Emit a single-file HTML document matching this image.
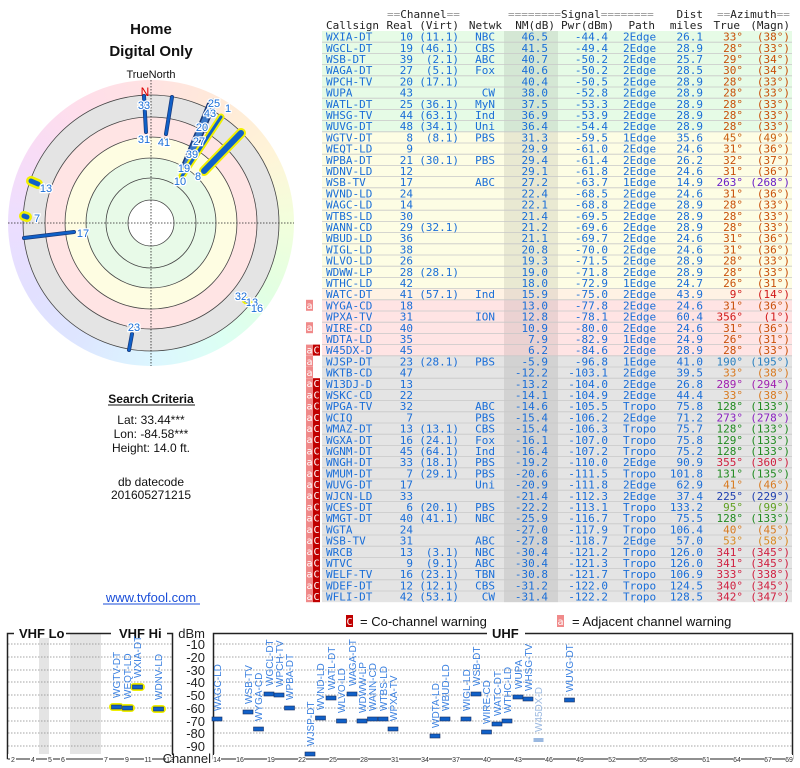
<!DOCTYPE html>
<html><head><meta charset="utf-8">
<style>
html,body{margin:0;padding:0;background:#fff;width:800px;height:768px;overflow:hidden;}
svg{position:absolute;left:0;top:0;}
.t text{font-family:"DejaVu Sans Mono","Liberation Mono",monospace;font-size:11px;fill:#1a6ed8;}
.t .r{text-anchor:end;}
.h text{font-family:"DejaVu Sans Mono","Liberation Mono",monospace;font-size:11px;fill:#222;}
.s{font-family:"Liberation Sans",sans-serif;}
.lb{font-family:"Liberation Sans",sans-serif;font-size:11px;fill:#1a6ed8;stroke:#fff;stroke-width:2.5px;paint-order:stroke;text-anchor:middle;}
.vl{font-family:"Liberation Sans",sans-serif;font-size:10px;fill:#3a80e0;}
.ax{font-family:"Liberation Sans",sans-serif;font-size:13px;fill:#222;text-anchor:end;}
.tk{font-family:"Liberation Sans",sans-serif;font-size:7px;fill:#333;text-anchor:middle;}
.w text{font-family:"DejaVu Sans Mono",monospace;font-size:10px;fill:#fff;text-anchor:middle;}
#ring{position:absolute;left:8px;top:80px;width:286px;height:286px;border-radius:50%;
background:conic-gradient(from 0deg,#ffe2e2,#ffead8,#fff4d8,#f2ffdc,#e2ffe2,#dcfff4,#dcf6ff,#dde6ff,#e2e0ff,#ecdeff,#f8dcf6,#ffdeea,#ffe2e2);}
</style></head><body>
<div id="ring"></div>
<svg width="800" height="768" viewBox="0 0 800 768">
<text class="s" x="151" y="34" font-size="15" font-weight="bold" text-anchor="middle" fill="#111">Home</text>
<text class="s" x="151" y="56" font-size="15" font-weight="bold" text-anchor="middle" fill="#111">Digital Only</text>
<text class="s" x="151" y="78" font-size="11" text-anchor="middle" fill="#111">TrueNorth</text>

<circle cx="151" cy="223" r="128" fill="#e4e4e4" stroke="#444" stroke-width="0.8"/>
<circle cx="151" cy="223" r="106" fill="#ffe4e4" stroke="#444" stroke-width="0.8"/>
<circle cx="151" cy="223" r="86" fill="#fefde2" stroke="#444" stroke-width="0.8"/>
<circle cx="151" cy="223" r="65" fill="#e8fae8" stroke="#444" stroke-width="0.8"/>
<circle cx="151" cy="223" r="45" fill="#e8fae8" stroke="#444" stroke-width="0.8"/>
<circle cx="151" cy="223" r="23" fill="#fff" stroke="#444" stroke-width="0.8"/>
<line x1="151" y1="80" x2="151" y2="366" stroke="#222" stroke-width="0.8" stroke-dasharray="1.5,1.5"/>
<line x1="8" y1="223" x2="294" y2="223" stroke="#222" stroke-width="0.8" stroke-dasharray="1.5,1.5"/>
<text class="s" x="145" y="96" font-size="12" fill="#d00" text-anchor="middle">N</text>
<g stroke-linecap="round">
<line x1="144" y1="96" x2="146" y2="132" stroke="#1a3a7a" stroke-width="4"/>
<line x1="144" y1="96" x2="146" y2="132" stroke="#1060c8" stroke-width="2.5"/>
<line x1="172" y1="97" x2="166" y2="134" stroke="#1a3a7a" stroke-width="4"/>
<line x1="172" y1="97" x2="166" y2="134" stroke="#1060c8" stroke-width="2.5"/>
<line x1="24" y1="238" x2="74" y2="232" stroke="#1a3a7a" stroke-width="4"/>
<line x1="24" y1="238" x2="74" y2="232" stroke="#1060c8" stroke-width="2.5"/>
<line x1="132" y1="334" x2="129" y2="350" stroke="#1a3a7a" stroke-width="4"/>
<line x1="132" y1="334" x2="129" y2="350" stroke="#1060c8" stroke-width="2.5"/>
<line x1="184" y1="170" x2="212" y2="103" stroke="#1a3a7a" stroke-width="9"/>
<line x1="184" y1="170" x2="212" y2="103" stroke="#3a78c8" stroke-width="6" stroke-dasharray="2,2"/>
<line x1="182" y1="176" x2="221" y2="117" stroke="#f0f000" stroke-width="7"/>
<line x1="182" y1="176" x2="221" y2="117" stroke="#1060c8" stroke-width="3"/>
<line x1="204" y1="171" x2="241" y2="133" stroke="#f0f000" stroke-width="10"/>
<line x1="204" y1="171" x2="241" y2="133" stroke="#1060c8" stroke-width="6"/>
<line x1="31" y1="181" x2="38" y2="184" stroke="#f0f000" stroke-width="10"/>
<line x1="31" y1="181" x2="38" y2="184" stroke="#1060c8" stroke-width="5"/>
<line x1="24" y1="216" x2="27" y2="217" stroke="#f0f000" stroke-width="10"/>
<line x1="24" y1="216" x2="27" y2="217" stroke="#1060c8" stroke-width="5"/>
<line x1="245" y1="300" x2="249" y2="303" stroke="#f0f000" stroke-width="7"/>
<line x1="245" y1="300" x2="249" y2="303" stroke="#1060c8" stroke-width="3"/>
</g>
<text class="lb" x="144" y="109">33</text>
<text class="lb" x="144" y="143">31</text>
<text class="lb" x="164" y="146">41</text>
<text class="lb" x="180" y="185">10</text>
<text class="lb" x="198" y="180">8</text>
<text class="lb" x="184" y="172">19</text>
<text class="lb" x="192" y="158">39</text>
<text class="lb" x="199" y="145">27</text>
<text class="lb" x="202" y="131">20</text>
<text class="lb" x="210" y="117">43</text>
<text class="lb" x="214" y="107">25</text>
<text class="lb" x="228" y="112">1</text>
<text class="lb" x="46" y="192">13</text>
<text class="lb" x="37" y="222">7</text>
<text class="lb" x="83" y="237">17</text>
<text class="lb" x="134" y="331">23</text>
<text class="lb" x="241" y="300">32</text>
<text class="lb" x="252" y="306">13</text>
<text class="lb" x="257" y="312">16</text>

<text class="s" x="151" y="403" font-size="12" font-weight="bold" text-anchor="middle" fill="#111">Search Criteria</text>
<line x1="108" y1="405" x2="195" y2="405" stroke="#111" stroke-width="1"/>
<text class="s" x="151" y="424" font-size="12" text-anchor="middle" fill="#111">Lat: 33.44***</text>
<text class="s" x="151" y="438" font-size="12" text-anchor="middle" fill="#111">Lon: -84.58***</text>
<text class="s" x="151" y="452" font-size="12" text-anchor="middle" fill="#111">Height: 14.0 ft.</text>
<text class="s" x="151" y="486" font-size="12" text-anchor="middle" fill="#111">db datecode</text>
<text class="s" x="151" y="499" font-size="12" text-anchor="middle" fill="#111">201605271215</text>
<text class="s" x="151" y="602" font-size="13" text-anchor="middle" fill="#1a4ed8">www.tvfool.com</text>
<line x1="103" y1="604" x2="200" y2="604" stroke="#1a4ed8" stroke-width="1"/>

<rect x="322" y="31" width="470" height="100.8" fill="#e6fbe6"/>
<rect x="322" y="131.8" width="470" height="156.8" fill="#fdfde4"/>
<rect x="322" y="288.6" width="470" height="11.2" fill="#fff2e4"/>
<rect x="322" y="299.8" width="470" height="56" fill="#ffe4e4"/>
<rect x="322" y="355.8" width="470" height="246.4" fill="#e4e4e4"/>
<rect x="504" y="31" width="54" height="571.2" fill="#000" fill-opacity="0.08"/>
<path stroke="#c8c8c8" stroke-width="0.8" d="M322 42.2H792M322 53.4H792M322 64.6H792M322 75.8H792M322 87H792M322 98.2H792M322 109.4H792M322 120.6H792M322 131.8H792M322 143H792M322 154.2H792M322 165.4H792M322 176.6H792M322 187.8H792M322 199H792M322 210.2H792M322 221.4H792M322 232.6H792M322 243.8H792M322 255H792M322 266.2H792M322 277.4H792M322 288.6H792M322 299.8H792M322 311H792M322 322.2H792M322 333.4H792M322 344.6H792M322 355.8H792M322 367H792M322 378.2H792M322 389.4H792M322 400.6H792M322 411.8H792M322 423H792M322 434.2H792M322 445.4H792M322 456.6H792M322 467.8H792M322 479H792M322 490.2H792M322 501.4H792M322 512.6H792M322 523.8H792M322 535H792M322 546.2H792M322 557.4H792M322 568.6H792M322 579.8H792M322 591H792"/>

<g class="h">
<text x="387" y="18"><tspan fill="#999">==</tspan>Channel<tspan fill="#999">==</tspan></text>
<text x="508" y="18"><tspan fill="#999">========</tspan>Signal<tspan fill="#999">========</tspan></text>
<text x="703" y="18" text-anchor="end">Dist</text>
<text x="717" y="18"><tspan fill="#999">==</tspan>Azimuth<tspan fill="#999">==</tspan></text>
<text x="326" y="29">Callsign</text>
<text x="413" y="29" text-anchor="end">Real</text>
<text x="459" y="29" text-anchor="end">(Virt)</text>
<text x="502" y="29" text-anchor="end">Netwk</text>
<text x="555" y="29" text-anchor="end">NM(dB)</text>
<text x="614" y="29" text-anchor="end">Pwr(dBm)</text>
<text x="655" y="29" text-anchor="end">Path</text>
<text x="703" y="29" text-anchor="end">miles</text>
<text x="740" y="29" text-anchor="end">True</text>
<text x="790" y="29" text-anchor="end">(Magn)</text>
</g>

<g class="t">
<g transform="translate(0,40.6)"><text x="326">WXIA-DT</text><text class="r" x="413">10</text><text class="r" x="459">(11.1)</text><text class="r" x="495">NBC</text><text class="r" x="548">46.5</text><text class="r" x="608">-44.4</text><text x="623">2Edge</text><text class="r" x="703">26.1</text><text class="r" x="743" style="fill:#c8500a">33°</text><text class="r" x="790" style="fill:#c8500a">(38°)</text></g>
<g transform="translate(0,51.8)"><text x="326">WGCL-DT</text><text class="r" x="413">19</text><text class="r" x="459">(46.1)</text><text class="r" x="495">CBS</text><text class="r" x="548">41.5</text><text class="r" x="608">-49.4</text><text x="623">2Edge</text><text class="r" x="703">28.9</text><text class="r" x="743" style="fill:#c8500a">28°</text><text class="r" x="790" style="fill:#c8500a">(33°)</text></g>
<g transform="translate(0,63)"><text x="326">WSB-DT</text><text class="r" x="413">39</text><text class="r" x="459">(2.1)</text><text class="r" x="495">ABC</text><text class="r" x="548">40.7</text><text class="r" x="608">-50.2</text><text x="623">2Edge</text><text class="r" x="703">25.7</text><text class="r" x="743" style="fill:#c8500a">29°</text><text class="r" x="790" style="fill:#c8500a">(34°)</text></g>
<g transform="translate(0,74.2)"><text x="326">WAGA-DT</text><text class="r" x="413">27</text><text class="r" x="459">(5.1)</text><text class="r" x="495">Fox</text><text class="r" x="548">40.6</text><text class="r" x="608">-50.2</text><text x="623">2Edge</text><text class="r" x="703">28.5</text><text class="r" x="743" style="fill:#c8500a">30°</text><text class="r" x="790" style="fill:#c8500a">(34°)</text></g>
<g transform="translate(0,85.4)"><text x="326">WPCH-TV</text><text class="r" x="413">20</text><text class="r" x="459">(17.1)</text><text class="r" x="548">40.4</text><text class="r" x="608">-50.5</text><text x="623">2Edge</text><text class="r" x="703">28.9</text><text class="r" x="743" style="fill:#c8500a">28°</text><text class="r" x="790" style="fill:#c8500a">(33°)</text></g>
<g transform="translate(0,96.6)"><text x="326">WUPA</text><text class="r" x="413">43</text><text class="r" x="495">CW</text><text class="r" x="548">38.0</text><text class="r" x="608">-52.8</text><text x="623">2Edge</text><text class="r" x="703">28.9</text><text class="r" x="743" style="fill:#c8500a">28°</text><text class="r" x="790" style="fill:#c8500a">(33°)</text></g>
<g transform="translate(0,107.8)"><text x="326">WATL-DT</text><text class="r" x="413">25</text><text class="r" x="459">(36.1)</text><text class="r" x="495">MyN</text><text class="r" x="548">37.5</text><text class="r" x="608">-53.3</text><text x="623">2Edge</text><text class="r" x="703">28.9</text><text class="r" x="743" style="fill:#c8500a">28°</text><text class="r" x="790" style="fill:#c8500a">(33°)</text></g>
<g transform="translate(0,119)"><text x="326">WHSG-TV</text><text class="r" x="413">44</text><text class="r" x="459">(63.1)</text><text class="r" x="495">Ind</text><text class="r" x="548">36.9</text><text class="r" x="608">-53.9</text><text x="623">2Edge</text><text class="r" x="703">28.9</text><text class="r" x="743" style="fill:#c8500a">28°</text><text class="r" x="790" style="fill:#c8500a">(33°)</text></g>
<g transform="translate(0,130.2)"><text x="326">WUVG-DT</text><text class="r" x="413">48</text><text class="r" x="459">(34.1)</text><text class="r" x="495">Uni</text><text class="r" x="548">36.4</text><text class="r" x="608">-54.4</text><text x="623">2Edge</text><text class="r" x="703">28.9</text><text class="r" x="743" style="fill:#c8500a">28°</text><text class="r" x="790" style="fill:#c8500a">(33°)</text></g>
<g transform="translate(0,141.4)"><text x="326">WGTV-DT</text><text class="r" x="413">8</text><text class="r" x="459">(8.1)</text><text class="r" x="495">PBS</text><text class="r" x="548">31.3</text><text class="r" x="608">-59.5</text><text x="623">1Edge</text><text class="r" x="703">35.6</text><text class="r" x="743" style="fill:#c86010">45°</text><text class="r" x="790" style="fill:#c86010">(49°)</text></g>
<g transform="translate(0,152.6)"><text x="326">WEQT-LD</text><text class="r" x="413">9</text><text class="r" x="548">29.9</text><text class="r" x="608">-61.0</text><text x="623">2Edge</text><text class="r" x="703">24.6</text><text class="r" x="743" style="fill:#c8500a">31°</text><text class="r" x="790" style="fill:#c8500a">(36°)</text></g>
<g transform="translate(0,163.8)"><text x="326">WPBA-DT</text><text class="r" x="413">21</text><text class="r" x="459">(30.1)</text><text class="r" x="495">PBS</text><text class="r" x="548">29.4</text><text class="r" x="608">-61.4</text><text x="623">2Edge</text><text class="r" x="703">26.2</text><text class="r" x="743" style="fill:#c8500a">32°</text><text class="r" x="790" style="fill:#c8500a">(37°)</text></g>
<g transform="translate(0,175)"><text x="326">WDNV-LD</text><text class="r" x="413">12</text><text class="r" x="548">29.1</text><text class="r" x="608">-61.8</text><text x="623">2Edge</text><text class="r" x="703">24.6</text><text class="r" x="743" style="fill:#c8500a">31°</text><text class="r" x="790" style="fill:#c8500a">(36°)</text></g>
<g transform="translate(0,186.2)"><text x="326">WSB-TV</text><text class="r" x="413">17</text><text class="r" x="495">ABC</text><text class="r" x="548">27.2</text><text class="r" x="608">-63.7</text><text x="623">1Edge</text><text class="r" x="703">14.9</text><text class="r" x="743" style="fill:#6a20c8">263°</text><text class="r" x="790" style="fill:#6a20c8">(268°)</text></g>
<g transform="translate(0,197.4)"><text x="326">WVND-LD</text><text class="r" x="413">24</text><text class="r" x="548">22.4</text><text class="r" x="608">-68.5</text><text x="623">2Edge</text><text class="r" x="703">24.6</text><text class="r" x="743" style="fill:#c8500a">31°</text><text class="r" x="790" style="fill:#c8500a">(36°)</text></g>
<g transform="translate(0,208.6)"><text x="326">WAGC-LD</text><text class="r" x="413">14</text><text class="r" x="548">22.1</text><text class="r" x="608">-68.8</text><text x="623">2Edge</text><text class="r" x="703">28.9</text><text class="r" x="743" style="fill:#c8500a">28°</text><text class="r" x="790" style="fill:#c8500a">(33°)</text></g>
<g transform="translate(0,219.8)"><text x="326">WTBS-LD</text><text class="r" x="413">30</text><text class="r" x="548">21.4</text><text class="r" x="608">-69.5</text><text x="623">2Edge</text><text class="r" x="703">28.9</text><text class="r" x="743" style="fill:#c8500a">28°</text><text class="r" x="790" style="fill:#c8500a">(33°)</text></g>
<g transform="translate(0,231)"><text x="326">WANN-CD</text><text class="r" x="413">29</text><text class="r" x="459">(32.1)</text><text class="r" x="548">21.2</text><text class="r" x="608">-69.6</text><text x="623">2Edge</text><text class="r" x="703">28.9</text><text class="r" x="743" style="fill:#c8500a">28°</text><text class="r" x="790" style="fill:#c8500a">(33°)</text></g>
<g transform="translate(0,242.2)"><text x="326">WBUD-LD</text><text class="r" x="413">36</text><text class="r" x="548">21.1</text><text class="r" x="608">-69.7</text><text x="623">2Edge</text><text class="r" x="703">24.6</text><text class="r" x="743" style="fill:#c8500a">31°</text><text class="r" x="790" style="fill:#c8500a">(36°)</text></g>
<g transform="translate(0,253.4)"><text x="326">WIGL-LD</text><text class="r" x="413">38</text><text class="r" x="548">20.8</text><text class="r" x="608">-70.0</text><text x="623">2Edge</text><text class="r" x="703">24.6</text><text class="r" x="743" style="fill:#c8500a">31°</text><text class="r" x="790" style="fill:#c8500a">(36°)</text></g>
<g transform="translate(0,264.6)"><text x="326">WLVO-LD</text><text class="r" x="413">26</text><text class="r" x="548">19.3</text><text class="r" x="608">-71.5</text><text x="623">2Edge</text><text class="r" x="703">28.9</text><text class="r" x="743" style="fill:#c8500a">28°</text><text class="r" x="790" style="fill:#c8500a">(33°)</text></g>
<g transform="translate(0,275.8)"><text x="326">WDWW-LP</text><text class="r" x="413">28</text><text class="r" x="459">(28.1)</text><text class="r" x="548">19.0</text><text class="r" x="608">-71.8</text><text x="623">2Edge</text><text class="r" x="703">28.9</text><text class="r" x="743" style="fill:#c8500a">28°</text><text class="r" x="790" style="fill:#c8500a">(33°)</text></g>
<g transform="translate(0,287)"><text x="326">WTHC-LD</text><text class="r" x="413">42</text><text class="r" x="548">18.0</text><text class="r" x="608">-72.9</text><text x="623">1Edge</text><text class="r" x="703">24.7</text><text class="r" x="743" style="fill:#c8500a">26°</text><text class="r" x="790" style="fill:#c8500a">(31°)</text></g>
<g transform="translate(0,298.2)"><text x="326">WATC-DT</text><text class="r" x="413">41</text><text class="r" x="459">(57.1)</text><text class="r" x="495">Ind</text><text class="r" x="548">15.9</text><text class="r" x="608">-75.0</text><text x="623">2Edge</text><text class="r" x="703">43.9</text><text class="r" x="743" style="fill:#d01818">9°</text><text class="r" x="790" style="fill:#d01818">(14°)</text></g>
<g transform="translate(0,309.4)"><text x="326">WYGA-CD</text><text class="r" x="413">18</text><text class="r" x="548">13.0</text><text class="r" x="608">-77.8</text><text x="623">2Edge</text><text class="r" x="703">24.6</text><text class="r" x="743" style="fill:#c8500a">31°</text><text class="r" x="790" style="fill:#c8500a">(36°)</text></g>
<g transform="translate(0,320.6)"><text x="326">WPXA-TV</text><text class="r" x="413">31</text><text class="r" x="495">ION</text><text class="r" x="548">12.8</text><text class="r" x="608">-78.1</text><text x="623">2Edge</text><text class="r" x="703">60.4</text><text class="r" x="743" style="fill:#d01818">356°</text><text class="r" x="790" style="fill:#d01818">(1°)</text></g>
<g transform="translate(0,331.8)"><text x="326">WIRE-CD</text><text class="r" x="413">40</text><text class="r" x="548">10.9</text><text class="r" x="608">-80.0</text><text x="623">2Edge</text><text class="r" x="703">24.6</text><text class="r" x="743" style="fill:#c8500a">31°</text><text class="r" x="790" style="fill:#c8500a">(36°)</text></g>
<g transform="translate(0,343)"><text x="326">WDTA-LD</text><text class="r" x="413">35</text><text class="r" x="548">7.9</text><text class="r" x="608">-82.9</text><text x="623">1Edge</text><text class="r" x="703">24.9</text><text class="r" x="743" style="fill:#c8500a">26°</text><text class="r" x="790" style="fill:#c8500a">(31°)</text></g>
<g transform="translate(0,354.2)"><text x="326">W45DX-D</text><text class="r" x="413">45</text><text class="r" x="548">6.2</text><text class="r" x="608">-84.6</text><text x="623">2Edge</text><text class="r" x="703">28.9</text><text class="r" x="743" style="fill:#c8500a">28°</text><text class="r" x="790" style="fill:#c8500a">(33°)</text></g>
<g transform="translate(0,365.4)"><text x="326">WJSP-DT</text><text class="r" x="413">23</text><text class="r" x="459">(28.1)</text><text class="r" x="495">PBS</text><text class="r" x="548">-5.9</text><text class="r" x="608">-96.8</text><text x="623">1Edge</text><text class="r" x="703">41.0</text><text class="r" x="743" style="fill:#2a80c0">190°</text><text class="r" x="790" style="fill:#2a80c0">(195°)</text></g>
<g transform="translate(0,376.6)"><text x="326">WKTB-CD</text><text class="r" x="413">47</text><text class="r" x="548">-12.2</text><text class="r" x="608">-103.1</text><text x="623">2Edge</text><text class="r" x="703">39.5</text><text class="r" x="743" style="fill:#d87a20">33°</text><text class="r" x="790" style="fill:#d87a20">(38°)</text></g>
<g transform="translate(0,387.8)"><text x="326">W13DJ-D</text><text class="r" x="413">13</text><text class="r" x="548">-13.2</text><text class="r" x="608">-104.0</text><text x="623">2Edge</text><text class="r" x="703">26.8</text><text class="r" x="743" style="fill:#a020b0">289°</text><text class="r" x="790" style="fill:#a020b0">(294°)</text></g>
<g transform="translate(0,399)"><text x="326">WSKC-CD</text><text class="r" x="413">22</text><text class="r" x="548">-14.1</text><text class="r" x="608">-104.9</text><text x="623">2Edge</text><text class="r" x="703">44.4</text><text class="r" x="743" style="fill:#d87a20">33°</text><text class="r" x="790" style="fill:#d87a20">(38°)</text></g>
<g transform="translate(0,410.2)"><text x="326">WPGA-TV</text><text class="r" x="413">32</text><text class="r" x="495">ABC</text><text class="r" x="548">-14.6</text><text class="r" x="608">-105.5</text><text x="623">Tropo</text><text class="r" x="703">75.8</text><text class="r" x="743" style="fill:#208a20">128°</text><text class="r" x="790" style="fill:#208a20">(133°)</text></g>
<g transform="translate(0,421.4)"><text x="326">WCIQ</text><text class="r" x="413">7</text><text class="r" x="495">PBS</text><text class="r" x="548">-15.4</text><text class="r" x="608">-106.2</text><text x="623">2Edge</text><text class="r" x="703">71.2</text><text class="r" x="743" style="fill:#8a20c0">273°</text><text class="r" x="790" style="fill:#8a20c0">(278°)</text></g>
<g transform="translate(0,432.6)"><text x="326">WMAZ-DT</text><text class="r" x="413">13</text><text class="r" x="459">(13.1)</text><text class="r" x="495">CBS</text><text class="r" x="548">-15.4</text><text class="r" x="608">-106.3</text><text x="623">Tropo</text><text class="r" x="703">75.7</text><text class="r" x="743" style="fill:#208a20">128°</text><text class="r" x="790" style="fill:#208a20">(133°)</text></g>
<g transform="translate(0,443.8)"><text x="326">WGXA-DT</text><text class="r" x="413">16</text><text class="r" x="459">(24.1)</text><text class="r" x="495">Fox</text><text class="r" x="548">-16.1</text><text class="r" x="608">-107.0</text><text x="623">Tropo</text><text class="r" x="703">75.8</text><text class="r" x="743" style="fill:#208a20">129°</text><text class="r" x="790" style="fill:#208a20">(133°)</text></g>
<g transform="translate(0,455)"><text x="326">WGNM-DT</text><text class="r" x="413">45</text><text class="r" x="459">(64.1)</text><text class="r" x="495">Ind</text><text class="r" x="548">-16.4</text><text class="r" x="608">-107.2</text><text x="623">Tropo</text><text class="r" x="703">75.2</text><text class="r" x="743" style="fill:#208a20">128°</text><text class="r" x="790" style="fill:#208a20">(133°)</text></g>
<g transform="translate(0,466.2)"><text x="326">WNGH-DT</text><text class="r" x="413">33</text><text class="r" x="459">(18.1)</text><text class="r" x="495">PBS</text><text class="r" x="548">-19.2</text><text class="r" x="608">-110.0</text><text x="623">2Edge</text><text class="r" x="703">90.9</text><text class="r" x="743" style="fill:#d02040">355°</text><text class="r" x="790" style="fill:#d02040">(360°)</text></g>
<g transform="translate(0,477.4)"><text x="326">WMUM-DT</text><text class="r" x="413">7</text><text class="r" x="459">(29.1)</text><text class="r" x="495">PBS</text><text class="r" x="548">-20.6</text><text class="r" x="608">-111.5</text><text x="623">Tropo</text><text class="r" x="703">101.8</text><text class="r" x="743" style="fill:#208a20">131°</text><text class="r" x="790" style="fill:#208a20">(135°)</text></g>
<g transform="translate(0,488.6)"><text x="326">WUVG-DT</text><text class="r" x="413">17</text><text class="r" x="495">Uni</text><text class="r" x="548">-20.9</text><text class="r" x="608">-111.8</text><text x="623">2Edge</text><text class="r" x="703">62.9</text><text class="r" x="743" style="fill:#d87a20">41°</text><text class="r" x="790" style="fill:#d87a20">(46°)</text></g>
<g transform="translate(0,499.8)"><text x="326">WJCN-LD</text><text class="r" x="413">33</text><text class="r" x="548">-21.4</text><text class="r" x="608">-112.3</text><text x="623">2Edge</text><text class="r" x="703">37.4</text><text class="r" x="743" style="fill:#2040b0">225°</text><text class="r" x="790" style="fill:#2040b0">(229°)</text></g>
<g transform="translate(0,511)"><text x="326">WCES-DT</text><text class="r" x="413">6</text><text class="r" x="459">(20.1)</text><text class="r" x="495">PBS</text><text class="r" x="548">-22.2</text><text class="r" x="608">-113.1</text><text x="623">Tropo</text><text class="r" x="703">133.2</text><text class="r" x="743" style="fill:#60a020">95°</text><text class="r" x="790" style="fill:#60a020">(99°)</text></g>
<g transform="translate(0,522.2)"><text x="326">WMGT-DT</text><text class="r" x="413">40</text><text class="r" x="459">(41.1)</text><text class="r" x="495">NBC</text><text class="r" x="548">-25.9</text><text class="r" x="608">-116.7</text><text x="623">Tropo</text><text class="r" x="703">75.5</text><text class="r" x="743" style="fill:#208a20">128°</text><text class="r" x="790" style="fill:#208a20">(133°)</text></g>
<g transform="translate(0,533.4)"><text x="326">WGTA</text><text class="r" x="413">24</text><text class="r" x="548">-27.0</text><text class="r" x="608">-117.9</text><text x="623">Tropo</text><text class="r" x="703">106.4</text><text class="r" x="743" style="fill:#d87a20">40°</text><text class="r" x="790" style="fill:#d87a20">(45°)</text></g>
<g transform="translate(0,544.6)"><text x="326">WSB-TV</text><text class="r" x="413">31</text><text class="r" x="495">ABC</text><text class="r" x="548">-27.8</text><text class="r" x="608">-118.7</text><text x="623">2Edge</text><text class="r" x="703">57.0</text><text class="r" x="743" style="fill:#d88a20">53°</text><text class="r" x="790" style="fill:#d88a20">(58°)</text></g>
<g transform="translate(0,555.8)"><text x="326">WRCB</text><text class="r" x="413">13</text><text class="r" x="459">(3.1)</text><text class="r" x="495">NBC</text><text class="r" x="548">-30.4</text><text class="r" x="608">-121.2</text><text x="623">Tropo</text><text class="r" x="703">126.0</text><text class="r" x="743" style="fill:#d02040">341°</text><text class="r" x="790" style="fill:#d02040">(345°)</text></g>
<g transform="translate(0,567)"><text x="326">WTVC</text><text class="r" x="413">9</text><text class="r" x="459">(9.1)</text><text class="r" x="495">ABC</text><text class="r" x="548">-30.4</text><text class="r" x="608">-121.3</text><text x="623">Tropo</text><text class="r" x="703">126.0</text><text class="r" x="743" style="fill:#d02040">341°</text><text class="r" x="790" style="fill:#d02040">(345°)</text></g>
<g transform="translate(0,578.2)"><text x="326">WELF-TV</text><text class="r" x="413">16</text><text class="r" x="459">(23.1)</text><text class="r" x="495">TBN</text><text class="r" x="548">-30.8</text><text class="r" x="608">-121.7</text><text x="623">Tropo</text><text class="r" x="703">106.9</text><text class="r" x="743" style="fill:#d02040">333°</text><text class="r" x="790" style="fill:#d02040">(338°)</text></g>
<g transform="translate(0,589.4)"><text x="326">WDEF-DT</text><text class="r" x="413">12</text><text class="r" x="459">(12.1)</text><text class="r" x="495">CBS</text><text class="r" x="548">-31.2</text><text class="r" x="608">-122.0</text><text x="623">Tropo</text><text class="r" x="703">124.5</text><text class="r" x="743" style="fill:#d02040">340°</text><text class="r" x="790" style="fill:#d02040">(345°)</text></g>
<g transform="translate(0,600.6)"><text x="326">WFLI-DT</text><text class="r" x="413">42</text><text class="r" x="459">(53.1)</text><text class="r" x="495">CW</text><text class="r" x="548">-31.4</text><text class="r" x="608">-122.2</text><text x="623">Tropo</text><text class="r" x="703">128.5</text><text class="r" x="743" style="fill:#d02040">342°</text><text class="r" x="790" style="fill:#d02040">(347°)</text></g>
</g>

<g class="w">
<g transform="translate(0,299.8)"><rect x="306" width="7" height="11" fill="#f08a8a"/><text x="309.5" y="9">a</text></g>
<g transform="translate(0,322.2)"><rect x="306" width="7" height="11" fill="#f08a8a"/><text x="309.5" y="9">a</text></g>
<g transform="translate(0,344.6)"><rect x="306" width="7" height="11" fill="#f08a8a"/><text x="309.5" y="9">a</text><rect x="313" width="7" height="11" fill="#c00000"/><text x="316.5" y="9">C</text></g>
<g transform="translate(0,355.8)"><rect x="306" width="7" height="11" fill="#f08a8a"/><text x="309.5" y="9">a</text></g>
<g transform="translate(0,367)"><rect x="306" width="7" height="11" fill="#f08a8a"/><text x="309.5" y="9">a</text></g>
<rect x="306" y="378.2" width="7" height="224" fill="#f08a8a"/>
<rect x="313" y="378.2" width="7" height="224" fill="#c00000"/>
<g transform="translate(0,378.2)"><text x="309.5" y="9">a</text><text x="316.5" y="9">C</text></g>
<g transform="translate(0,389.4)"><text x="309.5" y="9">a</text><text x="316.5" y="9">C</text></g>
<g transform="translate(0,400.6)"><text x="309.5" y="9">a</text><text x="316.5" y="9">C</text></g>
<g transform="translate(0,411.8)"><text x="309.5" y="9">a</text><text x="316.5" y="9">C</text></g>
<g transform="translate(0,423)"><text x="309.5" y="9">a</text><text x="316.5" y="9">C</text></g>
<g transform="translate(0,434.2)"><text x="309.5" y="9">a</text><text x="316.5" y="9">C</text></g>
<g transform="translate(0,445.4)"><text x="309.5" y="9">a</text><text x="316.5" y="9">C</text></g>
<g transform="translate(0,456.6)"><text x="309.5" y="9">a</text><text x="316.5" y="9">C</text></g>
<g transform="translate(0,467.8)"><text x="309.5" y="9">a</text><text x="316.5" y="9">C</text></g>
<g transform="translate(0,479)"><text x="309.5" y="9">a</text><text x="316.5" y="9">C</text></g>
<g transform="translate(0,490.2)"><text x="309.5" y="9">a</text><text x="316.5" y="9">C</text></g>
<g transform="translate(0,501.4)"><text x="309.5" y="9">a</text><text x="316.5" y="9">C</text></g>
<g transform="translate(0,512.6)"><text x="309.5" y="9">a</text><text x="316.5" y="9">C</text></g>
<g transform="translate(0,523.8)"><text x="309.5" y="9">a</text><text x="316.5" y="9">C</text></g>
<g transform="translate(0,535)"><text x="309.5" y="9">a</text><text x="316.5" y="9">C</text></g>
<g transform="translate(0,546.2)"><text x="309.5" y="9">a</text><text x="316.5" y="9">C</text></g>
<g transform="translate(0,557.4)"><text x="309.5" y="9">a</text><text x="316.5" y="9">C</text></g>
<g transform="translate(0,568.6)"><text x="309.5" y="9">a</text><text x="316.5" y="9">C</text></g>
<g transform="translate(0,579.8)"><text x="309.5" y="9">a</text><text x="316.5" y="9">C</text></g>
<g transform="translate(0,591)"><text x="309.5" y="9">a</text><text x="316.5" y="9">C</text></g>
</g>

<rect x="346" y="615" width="7" height="12" fill="#c00000"/>
<text x="349.5" y="625" font-family="DejaVu Sans Mono,monospace" font-size="10" fill="#fff" text-anchor="middle">C</text>
<text class="s" x="360" y="626" font-size="13" fill="#111">= Co-channel warning</text>
<rect x="557" y="615" width="7" height="12" fill="#f08a8a"/>
<text x="560.5" y="625" font-family="DejaVu Sans Mono,monospace" font-size="10" fill="#fff" text-anchor="middle">a</text>
<text class="s" x="572" y="626" font-size="13" fill="#111">= Adjacent channel warning</text>

<rect x="39" y="634" width="10" height="124" fill="#e4e4e4"/>
<rect x="70" y="634" width="31" height="124" fill="#e4e4e4"/>
<g stroke="#888" stroke-width="0.8" stroke-dasharray="1.5,1.5">
<path d="M8 644H172M8 657H172M8 670H172M8 682H172M8 695H172M8 708H172M8 721H172M8 733H172M8 746H172"/>
<path d="M214 644H792M214 657H792M214 670H792M214 682H792M214 695H792M214 708H792M214 721H792M214 733H792M214 746H792"/>
</g>
<rect x="7.5" y="633.5" width="165" height="125" fill="none" stroke="#222" stroke-width="1.5"/>
<rect x="213.5" y="633.5" width="579" height="125" fill="none" stroke="#222" stroke-width="1.5"/>
<rect x="14" y="626" width="52" height="12" fill="#fff"/>
<rect x="111" y="626" width="56" height="12" fill="#fff"/>
<rect x="487" y="626" width="38" height="12" fill="#fff"/>
<text class="s" x="19" y="638" font-size="13" font-weight="bold" fill="#111">VHF Lo</text>
<text class="s" x="119" y="638" font-size="13" font-weight="bold" fill="#111">VHF Hi</text>
<text class="s" x="492" y="638" font-size="13" font-weight="bold" fill="#111">UHF</text>
<text class="ax" x="205" y="638">dBm</text>
<text class="ax" x="205" y="649">-10</text>
<text class="ax" x="205" y="662">-20</text>
<text class="ax" x="205" y="675">-30</text>
<text class="ax" x="205" y="687">-40</text>
<text class="ax" x="205" y="700">-50</text>
<text class="ax" x="205" y="713">-60</text>
<text class="ax" x="205" y="726">-70</text>
<text class="ax" x="205" y="738">-80</text>
<text class="ax" x="205" y="751">-90</text>
<rect x="8" y="754" width="164" height="9" fill="#fff"/>
<rect x="214" y="754" width="578" height="9" fill="#fff"/>
<line x1="8" y1="759" x2="172" y2="759" stroke="#222" stroke-width="1"/>
<line x1="214" y1="759" x2="792" y2="759" stroke="#222" stroke-width="1"/>
<g class="tk">
<g fill="#fff" stroke="none">
<rect x="10" y="755" width="6" height="8"/><rect x="30" y="755" width="6" height="8"/><rect x="47" y="755" width="6" height="8"/><rect x="60" y="755" width="6" height="8"/><rect x="103" y="755" width="6" height="8"/><rect x="124" y="755" width="6" height="8"/><rect x="144" y="755" width="8" height="8"/><rect x="166" y="755" width="8" height="8"/>
<rect x="213" y="755" width="8" height="8"/><rect x="236" y="755" width="8" height="8"/><rect x="267" y="755" width="8" height="8"/><rect x="298" y="755" width="8" height="8"/><rect x="329" y="755" width="8" height="8"/><rect x="360" y="755" width="8" height="8"/><rect x="391" y="755" width="8" height="8"/><rect x="421" y="755" width="8" height="8"/><rect x="452" y="755" width="8" height="8"/><rect x="483" y="755" width="8" height="8"/><rect x="514" y="755" width="8" height="8"/><rect x="545" y="755" width="8" height="8"/><rect x="576" y="755" width="8" height="8"/><rect x="608" y="755" width="8" height="8"/><rect x="639" y="755" width="8" height="8"/><rect x="670" y="755" width="8" height="8"/><rect x="702" y="755" width="8" height="8"/><rect x="733" y="755" width="8" height="8"/><rect x="764" y="755" width="8" height="8"/><rect x="785" y="755" width="8" height="8"/>
</g>
<text x="13" y="762">2</text><text x="33" y="762">4</text><text x="50" y="762">5</text><text x="63" y="762">6</text><text x="106" y="762">7</text><text x="127" y="762">9</text><text x="148" y="762">11</text><text x="170" y="762">13</text>
<text x="217" y="762">14</text><text x="240" y="762">16</text><text x="271" y="762">19</text><text x="302" y="762">22</text><text x="333" y="762">25</text><text x="364" y="762">28</text><text x="395" y="762">31</text><text x="425" y="762">34</text><text x="456" y="762">37</text><text x="487" y="762">40</text><text x="518" y="762">43</text><text x="549" y="762">46</text><text x="580" y="762">49</text><text x="612" y="762">52</text><text x="643" y="762">55</text><text x="674" y="762">58</text><text x="706" y="762">61</text><text x="737" y="762">64</text><text x="768" y="762">67</text><text x="789" y="762">69</text>
</g>
<rect x="174" y="752" width="38" height="14" fill="#fff"/>
<text class="ax" x="211" y="763" font-size="11">Channel</text>

<g>
<rect x="109" y="703" width="15" height="8" rx="4" fill="#f0f000"/>
<rect x="120" y="704" width="15" height="8" rx="4" fill="#f0f000"/>
<rect x="130" y="683" width="15" height="8" rx="4" fill="#f0f000"/>
<rect x="151" y="705" width="15" height="8" rx="4" fill="#f0f000"/>
</g>
<g fill="#1060c8" stroke="#1a3060" stroke-width="0.6">
<rect x="111.5" y="705" width="10" height="4"/>
<rect x="122.5" y="706" width="10" height="4"/>
<rect x="132.5" y="685" width="10" height="4"/>
<rect x="153.5" y="707" width="10" height="4"/>
<rect x="212" y="717" width="10" height="4"/>
<rect x="243" y="710" width="10" height="4"/>
<rect x="253.5" y="727" width="10" height="4"/>
<rect x="264" y="692" width="10" height="4"/>
<rect x="274" y="693" width="10" height="4"/>
<rect x="284.5" y="706" width="10" height="4"/>
<rect x="305" y="752" width="10" height="4"/>
<rect x="315.5" y="716" width="10" height="4"/>
<rect x="326" y="696" width="10" height="4"/>
<rect x="336.5" y="719" width="10" height="4"/>
<rect x="347" y="692" width="10" height="4"/>
<rect x="357" y="719" width="10" height="4"/>
<rect x="367.5" y="717" width="10" height="4"/>
<rect x="378" y="717" width="10" height="4"/>
<rect x="388" y="727" width="10" height="4"/>
<rect x="430" y="734" width="10" height="4"/>
<rect x="440" y="717" width="10" height="4"/>
<rect x="461" y="717" width="10" height="4"/>
<rect x="471" y="692" width="10" height="4"/>
<rect x="481.5" y="730" width="10" height="4"/>
<rect x="492" y="722" width="10" height="4"/>
<rect x="502" y="719" width="10" height="4"/>
<rect x="513" y="695" width="10" height="4"/>
<rect x="523" y="697" width="10" height="4"/>
<rect x="564.5" y="698" width="10" height="4"/>
</g>
<rect x="533.5" y="738" width="10" height="4" fill="#9ab8e0"/>

<g class="vl">
<text transform="translate(120,698) rotate(-90)">WGTV-DT</text>
<text transform="translate(131,699) rotate(-90)">WEQT-LD</text>
<text transform="translate(141,678) rotate(-90)">WXIA-DT</text>
<text transform="translate(162,700) rotate(-90)">WDNV-LD</text>
<text transform="translate(221,711) rotate(-90)">WAGC-LD</text>
<text transform="translate(252,704) rotate(-90)">WSB-TV</text>
<text transform="translate(262,721) rotate(-90)">WYGA-CD</text>
<text transform="translate(273,686) rotate(-90)">WGCL-DT</text>
<text transform="translate(283,687) rotate(-90)">WPCH-TV</text>
<text transform="translate(293,700) rotate(-90)">WPBA-DT</text>
<text transform="translate(314,746) rotate(-90)">WJSP-DT</text>
<text transform="translate(324,710) rotate(-90)">WVND-LD</text>
<text transform="translate(335,690) rotate(-90)">WATL-DT</text>
<text transform="translate(345,713) rotate(-90)">WLVO-LD</text>
<text transform="translate(356,686) rotate(-90)">WAGA-DT</text>
<text transform="translate(366,713) rotate(-90)">WDWW-LP</text>
<text transform="translate(376,711) rotate(-90)">WANN-CD</text>
<text transform="translate(387,711) rotate(-90)">WTBS-LD</text>
<text transform="translate(397,721) rotate(-90)">WPXA-TV</text>
<text transform="translate(439,728) rotate(-90)">WDTA-LD</text>
<text transform="translate(449,711) rotate(-90)">WBUD-LD</text>
<text transform="translate(470,711) rotate(-90)">WIGL-LD</text>
<text transform="translate(480,686) rotate(-90)">WSB-DT</text>
<text transform="translate(490,724) rotate(-90)">WIRE-CD</text>
<text transform="translate(501,716) rotate(-90)">WATC-DT</text>
<text transform="translate(511,713) rotate(-90)">WTHC-LD</text>
<text transform="translate(522,689) rotate(-90)">WUPA</text>
<text transform="translate(532,691) rotate(-90)">WHSG-TV</text>
<text transform="translate(542,732) rotate(-90)" style="fill:#9ab8e0">W45DX-D</text>
<text transform="translate(573,692) rotate(-90)">WUVG-DT</text>
</g>
</svg>
</body></html>
